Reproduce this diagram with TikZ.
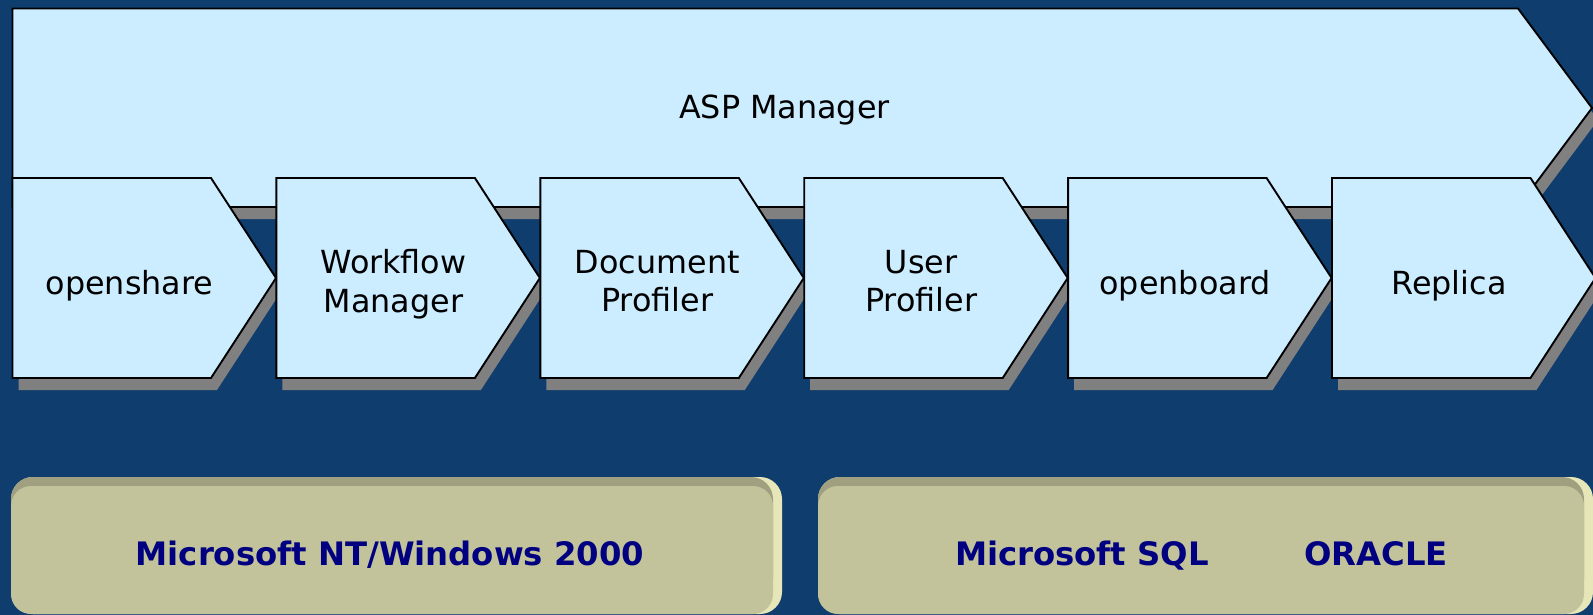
\documentclass[tikz,border=0pt]{standalone}
\usepackage{fontspec}
\setmainfont{DejaVu Sans}

\definecolor{slidebg}{HTML}{0E3D6E}
\definecolor{palecyan}{HTML}{CCECFF}
\definecolor{dropgray}{HTML}{808080}
\definecolor{platform}{HTML}{C3C39B}
\definecolor{platformtop}{HTML}{A0A080}
\definecolor{platformedge}{HTML}{E6E6B8}
\definecolor{platformink}{HTML}{000080}

\begin{document}
\begin{tikzpicture}[x=1pt, y=-1pt,
    stage/.style={draw=black, line width=1.9pt, fill=palecyan, line join=miter},
    drop/.style={fill=dropgray},
    stagetext/.style={font=\fontsize{31.8}{38.5}\selectfont, align=center,
      execute at begin node=\strut, execute at end node=\strut},
    baselabel/.style={anchor=base, text=platformink,
      font=\bfseries\fontsize{32.3}{38}\selectfont}
]

\fill[slidebg] (0,0) rectangle (1593,615);
\useasboundingbox (0,0) rectangle (1593,615);

% ASP Manager band
\fill[drop] (18.5,20.5) -- (1524,20.5) -- (1598,120) -- (1524,219) -- (18.5,219) -- cycle;
\draw[stage] (12.5,8.5) -- (1518,8.5) -- (1592,108) -- (1518,207) -- (12.5,207) -- cycle;
\node (asp) at (784.5,118.5) [anchor=base, font=\fontsize{31.8}{38.5}\selectfont] {ASP Manager};

% modules
\foreach \i/\name/\txt in {0/openshare/openshare, 1/workflow/{Workflow\\Manager},
    2/docprof/{Document\\Profiler}, 3/userprof/{User\\Profiler},
    4/openboard/openboard, 5/replica/Replica}{
  \pgfmathsetmacro{\x}{12.5+263.9*\i}
  \fill[drop] (\x+6,190) -- ++(198.5,0) -- ++(65,100) -- ++(-65,100) -- ++(-198.5,0) -- cycle;
  \draw[stage] (\x,178) -- ++(198.5,0) -- ++(65,100) -- ++(-65,100) -- ++(-198.5,0) -- cycle;
  \node (\name) at (\x+117,286.5) [stagetext] {\txt};
}

% platforms
\foreach \l/\r in {11/782, 818/1593}{
  \fill[platformedge, rounded corners=22] (\l,477) rectangle (\r,614);
  \fill[platformtop, rounded corners=22] (\l,477) rectangle (\r-9,600);
  \fill[platform, rounded corners=20] (\l,486) rectangle (\r-9,614);
}

\node (winnt) at (390,565) [baselabel] {Microsoft NT/Windows 2000};
\node (mssql) at (1082,565) [baselabel] {Microsoft SQL};
\node (oracle) at (1376,565) [baselabel] {ORACLE};

\end{tikzpicture}
\end{document}
